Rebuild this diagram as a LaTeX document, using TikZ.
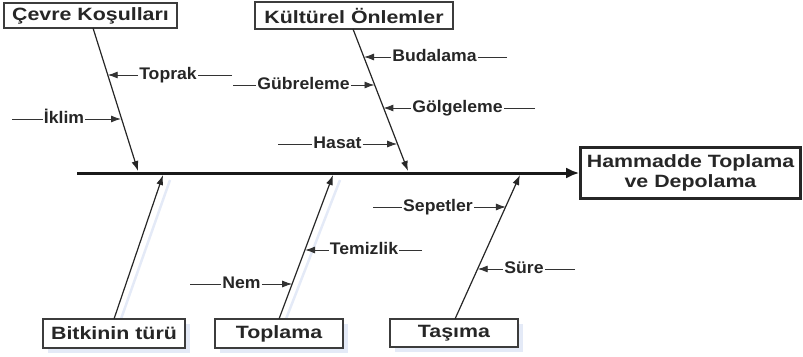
\documentclass[tikz,border=0pt]{standalone}
\usepackage{graphicx}
\usepackage{fontspec}
\setmainfont{Liberation Sans}
\usetikzlibrary{arrows.meta,calc}
\definecolor{shadowblue}{RGB}{228,234,247}
\definecolor{boxline}{RGB}{60,60,60}
\newcommand{\bxt}[1]{\scalebox{1.2}[1]{#1}}
\newcommand{\lbt}[1]{\scalebox{1.05}[1]{#1}}
\tikzset{
  catbox/.style={draw=boxline, line width=1.3pt, fill=white, inner sep=0pt,
    font=\bfseries\fontsize{17.8}{21}\selectfont, text=black!85},
  effbox/.style={catbox, line width=2.6pt, draw=black!85, align=center},
  lab/.style={inner sep=1pt, anchor=base, font=\bfseries\fontsize{16.8}{19}\selectfont, text=black!85},
  bone/.style={line width=1.2pt, draw=black!85, -{Latex[length=10pt,width=7pt]}},
  twig/.style={line width=0.9pt, draw=black!80},
  twigarr/.style={twig, -{Latex[length=10pt,width=7pt]}},
  spine/.style={line width=3pt, draw=black!90, -{Latex[length=13pt,width=11pt]}},
  shadline/.style={line width=2.5pt, draw=shadowblue}
}
\begin{document}
\begin{tikzpicture}[x=1pt,y=-1pt]
\useasboundingbox (0,0) rectangle (803,356);

% shadows of bottom boxes and bones
\fill[shadowblue] (48,324) rectangle (190,353);
\fill[shadowblue] (220,324) rectangle (348,353);
\fill[shadowblue] (395,324) rectangle (523,352);
\draw[shadline] (121,319) -- (170,180);
\draw[shadline] (286,319) -- (340,180);

% boxes
\node[catbox, minimum width=173pt, minimum height=25pt] (cevre) at (90.5,15.5) {\bxt{Çevre Koşulları}};
\node[catbox, minimum width=198pt, minimum height=27pt] (kult) at (354,15.5) {\bxt{Kültürel Önlemler}};
\node[catbox, minimum width=142pt, minimum height=29pt] (bitki) at (114,333.5) {\bxt{Bitkinin türü}};
\node[catbox, minimum width=128pt, minimum height=29pt] (topl) at (279,333.5) {\bxt{Toplama}};
\node[catbox, minimum width=128pt, minimum height=28pt] (tasi) at (454,333) {\bxt{Taşıma}};
\node[effbox, minimum width=220pt, minimum height=51pt] (ham) at (690.5,173) {\bxt{Hammadde Toplama}\\[-1pt]\bxt{ve Depolama}};

% spine
\coordinate (sp0) at (77,173);
\draw[spine] (sp0) -- (ham.west);

% bone coordinates
\coordinate (cA) at (93,28);   \coordinate (cB) at (138,171);
\coordinate (kA) at (353,29);  \coordinate (kB) at (408,171);
\coordinate (bA) at (114,319); \coordinate (bB) at (163,175);
\coordinate (tA) at (279,319); \coordinate (tB) at (333,175);
\coordinate (sA) at (455,319); \coordinate (sB) at (520,175);

\draw[bone] (cA) -- (cB);
\draw[bone] (kA) -- (kB);
\draw[bone] (bA) -- (bB);
\draw[bone] (tA) -- (tB);
\draw[bone] (sA) -- (sB);

% Toprak
\coordinate (s1) at (232,75); \coordinate (e1) at (107.7,75);
\node[lab] (l1) at (168,79.5) {\lbt{Toprak}};
\draw[twig] (s1) -- (s1 -| l1.east);
\draw[twigarr] (s1 -| l1.west) -- (e1);
% Iklim
\coordinate (s2) at (12,119); \coordinate (e2) at (121,119);
\node[lab] (l2) at (64,123.5) {\lbt{İklim}};
\draw[twig] (s2) -- (s2 -| l2.west);
\draw[twigarr] (s2 -| l2.east) -- (e2);
% Budalama
\coordinate (s3) at (507,57); \coordinate (e3) at (364,57);
\node[lab] (l3) at (434.5,61.5) {\lbt{Budalama}};
\draw[twig] (s3) -- (s3 -| l3.east);
\draw[twigarr] (s3 -| l3.west) -- (e3);
% Gubreleme
\coordinate (s4) at (233,85); \coordinate (e4) at (374.5,85);
\node[lab] (l4) at (303.5,89.5) {\lbt{Gübreleme}};
\draw[twig] (s4) -- (s4 -| l4.west);
\draw[twigarr] (s4 -| l4.east) -- (e4);
% Golgeleme
\coordinate (s5) at (535,108); \coordinate (e5) at (383.4,108);
\node[lab] (l5) at (457.5,112.5) {\lbt{Gölgeleme}};
\draw[twig] (s5) -- (s5 -| l5.east);
\draw[twigarr] (s5 -| l5.west) -- (e5);
% Hasat
\coordinate (s6) at (278,144); \coordinate (e6) at (397.2,144);
\node[lab] (l6) at (337.5,148.5) {\lbt{Hasat}};
\draw[twig] (s6) -- (s6 -| l6.west);
\draw[twigarr] (s6 -| l6.east) -- (e6);
% Temizlik
\coordinate (s7) at (422,250); \coordinate (e7) at (305.1,250);
\node[lab] (l7) at (364,254.5) {\lbt{Temizlik}};
\draw[twig] (s7) -- (s7 -| l7.east);
\draw[twigarr] (s7 -| l7.west) -- (e7);
% Nem
\coordinate (s8) at (190,284); \coordinate (e8) at (292.2,284);
\node[lab] (l8) at (241.5,288.5) {\lbt{Nem}};
\draw[twig] (s8) -- (s8 -| l8.west);
\draw[twigarr] (s8 -| l8.east) -- (e8);
% Sepetler
\coordinate (s9) at (373,207); \coordinate (e9) at (505.9,207);
\node[lab] (l9) at (438,211.5) {\lbt{Sepetler}};
\draw[twig] (s9) -- (s9 -| l9.west);
\draw[twigarr] (s9 -| l9.east) -- (e9);
% Sure
\coordinate (s10) at (575,269); \coordinate (e10) at (477.7,269);
\node[lab] (l10) at (524,273.5) {\lbt{Süre}};
\draw[twig] (s10) -- (s10 -| l10.east);
\draw[twigarr] (s10 -| l10.west) -- (e10);
\end{tikzpicture}
\end{document}
